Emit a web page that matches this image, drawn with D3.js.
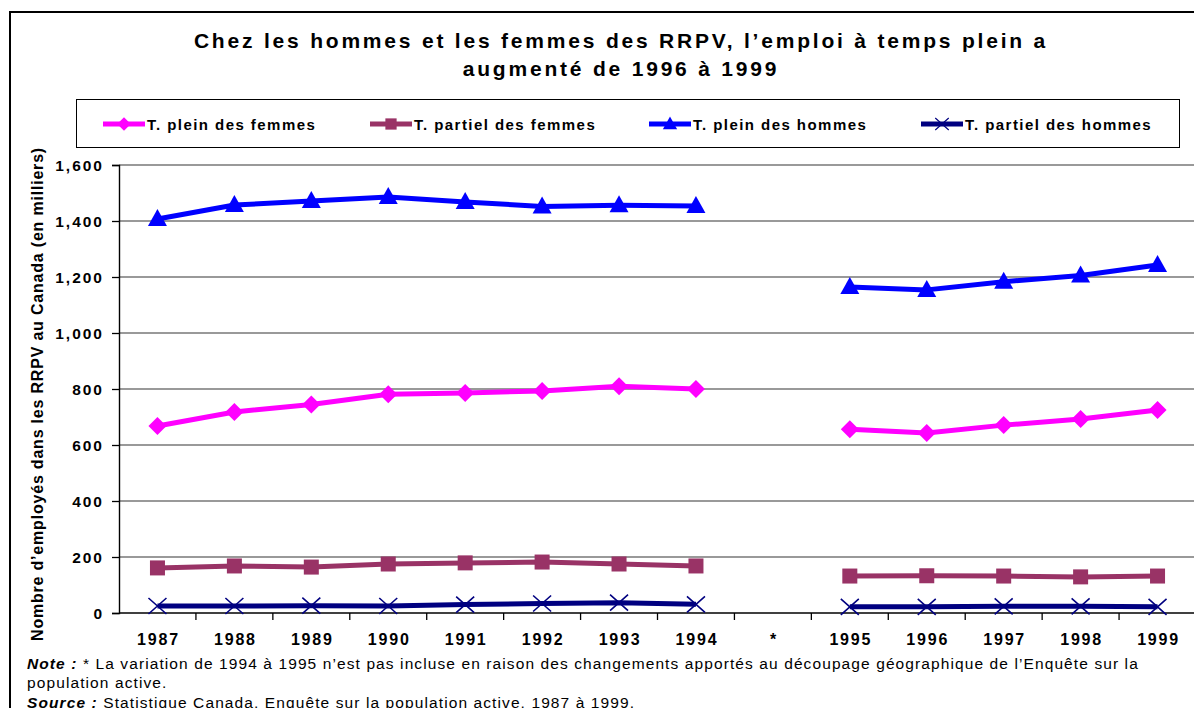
<!DOCTYPE html>
<html>
<head>
<meta charset="utf-8">
<script src="https://cdn.jsdelivr.net/npm/d3@7"></script>
<style>
  body { margin: 0; background: #fff; }
  svg { display: block; font-family: Arial, "Liberation Sans", sans-serif; }
</style>
</head>
<body>
<svg id="plot"></svg>
<script>
// categories (the "*" marks the break between 1994 and 1995)
var years = ["1987", "1988", "1989", "1990", "1991", "1992", "1993", "1994", "*",
             "1995", "1996", "1997", "1998", "1999"];

// values in thousands, null where there is no data
var pleinFemmes   = [668, 718, 745, 781, 786, 793, 810, 800, null, 656, 643, 671, 693, 725];
var partielFemmes = [161, 168, 164, 175, 179, 182, 175, 168, null, 132, 133, 132, 129, 132];
var pleinHommes   = [1407, 1457, 1471, 1486, 1468, 1452, 1456, 1454, null, 1164, 1154, 1183, 1205, 1243];
var partielHommes = [25, 25, 26, 25, 30, 34, 37, 31, null, 22, 22, 24, 24, 22];

var yTicks = [0, 200, 400, 600, 800, 1000, 1200, 1400, 1600];

var seriesNames = ["T. plein des femmes", "T. partiel des femmes", "T. plein des hommes", "T. partiel des hommes"];

var series = [
  {name: seriesNames[0], values: pleinFemmes, color: "#ff00ff", symbol: "diamond"},
  {name: seriesNames[1], values: partielFemmes, color: "#993366", symbol: "square"},
  {name: seriesNames[2], values: pleinHommes, color: "#0000ff", symbol: "triangle"},
  {name: seriesNames[3], values: partielHommes, color: "#000080", symbol: "cross"}
];

var W = 1194, H = 708;
var svg = d3.select("#plot").attr("width", W).attr("height", H);

var margin = {top: 165, left: 119, right: -2, bottom: 95};
var width = W - margin.left - margin.right,
    height = H - margin.top - margin.bottom;

// outer frame
svg.append("rect")
  .attr("x", 10).attr("y", 12)
  .attr("width", W + 20).attr("height", H + 20)
  .attr("fill", "none").attr("stroke", "#000").attr("stroke-width", 2);

// title
var title = svg.append("text")
  .attr("text-anchor", "middle")
  .attr("font-size", 21).attr("font-weight", "bold")
  .attr("letter-spacing", 2.8);
title.append("tspan").attr("x", 621).attr("y", 48)
  .text("Chez les hommes et les femmes des RRPV, l’emploi à temps plein a");
title.append("tspan").attr("x", 621).attr("y", 76)
  .text("augmenté de 1996 à 1999");

var g = svg.append("g")
  .attr("transform", "translate(" + margin.left + "," + margin.top + ")");

var x = d3.scalePoint().domain(years).range([0, width]).padding(0.5);
var xBand = d3.scaleBand().domain(years).range([0, width]);
var y = d3.scaleLinear().domain([0, 1600]).range([height, 0]);

// gridlines
g.append("g")
  .selectAll("line")
  .data(yTicks.filter(function(d){ return d > 0; }))
  .enter().append("line")
  .attr("x1", 0).attr("x2", width + 10)
  .attr("y1", function(d){ return Math.round(y(d)); })
  .attr("y2", function(d){ return Math.round(y(d)); })
  .attr("stroke", "#777").attr("stroke-width", 1.4);

// y axis
var yAxis = g.append("g")
  .call(d3.axisLeft(y).tickValues(yTicks).tickFormat(d3.format(",")).tickSize(7).tickPadding(8));
yAxis.select(".domain").attr("stroke", "#000").attr("stroke-width", 1.4);
yAxis.selectAll(".tick line").attr("stroke", "#000").attr("stroke-width", 1.3);
yAxis.selectAll(".tick text")
  .attr("font-size", 15.5).attr("font-weight", "bold").attr("fill", "#000")
  .attr("letter-spacing", 2)
  .attr("dy", "0.36em")
  .attr("font-family", "Arial, 'Liberation Sans', sans-serif");

// x axis, ticks between categories
var xAxis = g.append("g").attr("transform", "translate(0," + height + ")");
xAxis.append("line").attr("x1", 0).attr("x2", width + 10)
  .attr("y1", 0).attr("y2", 0).attr("stroke", "#000").attr("stroke-width", 1.4);
xAxis.selectAll(".tk")
  .data(years.slice(1))
  .enter().append("line")
  .attr("x1", function(d){ return xBand(d); })
  .attr("x2", function(d){ return xBand(d); })
  .attr("y1", 0).attr("y2", 7).attr("stroke", "#000").attr("stroke-width", 1.3);
xAxis.selectAll(".lbl")
  .data(years)
  .enter().append("text")
  .attr("x", function(d){ return x(d) + 1; })
  .attr("y", 32)
  .attr("text-anchor", "middle")
  .attr("font-size", 16).attr("font-weight", "bold")
  .attr("letter-spacing", 1.8)
  .text(function(d){ return d; });

// y axis title
svg.append("text")
  .attr("transform", "translate(43,394) rotate(-90)")
  .attr("text-anchor", "middle")
  .attr("font-size", 16).attr("font-weight", "bold")
  .attr("letter-spacing", 0.8)
  .text("Nombre d’employés dans les RRPV au Canada (en milliers)");

// markers
function drawSymbol(sel, type, color) {
  if (type === "diamond") {
    sel.append("path").attr("d", "M0,-9L9,0L0,9L-9,0Z").attr("fill", color);
  } else if (type === "square") {
    sel.append("rect").attr("x", -7.5).attr("y", -7.5).attr("width", 15).attr("height", 15).attr("fill", color);
  } else if (type === "triangle") {
    sel.append("path").attr("d", "M0,-10L9.5,7L-9.5,7Z").attr("fill", color);
  } else {
    sel.append("path").attr("d", "M-9,-8L9,8M-9,8L9,-8").attr("stroke", color).attr("stroke-width", 1.6).attr("fill", "none");
  }
}

var line = d3.line()
  .defined(function(d){ return d.v != null; })
  .x(function(d){ return x(d.year); })
  .y(function(d){ return y(d.v); });

series.forEach(function(s) {
  var pts = years.map(function(yr, i){ return {year: yr, v: s.values[i]}; });
  g.append("path")
    .datum(pts)
    .attr("d", line)
    .attr("fill", "none")
    .attr("stroke", s.color)
    .attr("stroke-width", 5)
    .attr("stroke-linejoin", "round");
  g.selectAll(null)
    .data(pts.filter(function(d){ return d.v != null; }))
    .enter().append("g")
    .attr("transform", function(d){ return "translate(" + x(d.year) + "," + y(d.v) + ")"; })
    .each(function(){ drawSymbol(d3.select(this), s.symbol, s.color); });
});

// legend
svg.append("rect")
  .attr("x", 76.5).attr("y", 99.5).attr("width", 1103).attr("height", 48)
  .attr("fill", "#fff").attr("stroke", "#000").attr("stroke-width", 1);

var legendX = [103, 370, 649, 921];
series.forEach(function(s, i) {
  var lg = svg.append("g").attr("transform", "translate(" + legendX[i] + ",124)");
  lg.append("line").attr("x1", 0).attr("x2", 42).attr("y1", 0).attr("y2", 0)
    .attr("stroke", s.color).attr("stroke-width", 5);
  var m = lg.append("g").attr("transform", "translate(21,0) scale(0.75)");
  drawSymbol(m, s.symbol, s.color);
  lg.append("text").attr("x", 44).attr("y", 5.5)
    .attr("font-size", 15).attr("font-weight", "bold").attr("letter-spacing", 1.45)
    .text(s.name);
});

// notes
var note = svg.append("text").attr("font-size", 15.5).attr("letter-spacing", 1.1);
note.append("tspan").attr("x", 27).attr("y", 669)
  .attr("font-weight", "bold").attr("font-style", "italic").text("Note :");
note.append("tspan")
  .text(" * La variation de 1994 à 1995 n’est pas incluse en raison des changements apportés au découpage géographique de l’Enquête sur la");
svg.append("text").attr("font-size", 15.5).attr("letter-spacing", 1.1)
  .attr("x", 27).attr("y", 688).text("population active.");
var src = svg.append("text").attr("font-size", 15.5).attr("letter-spacing", 1.1);
src.append("tspan").attr("x", 27).attr("y", 708)
  .attr("font-weight", "bold").attr("font-style", "italic").text("Source :");
src.append("tspan").text(" Statistique Canada, Enquête sur la population active, 1987 à 1999.");
</script>
</body>
</html>
